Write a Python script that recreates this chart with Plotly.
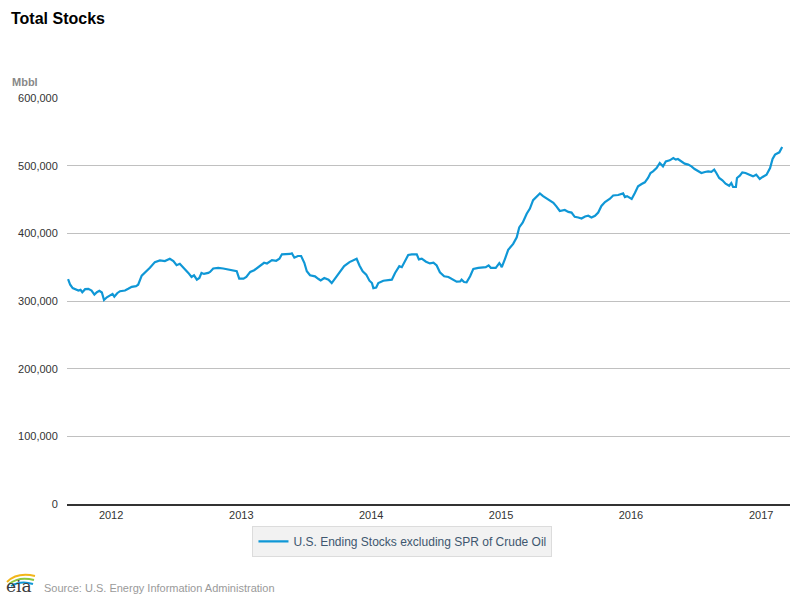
import plotly.graph_objects as go

series_name = "U.S. Ending Stocks excluding SPR of Crude Oil"

dates = [
    "2011-09-02", "2011-09-08", "2011-09-15", "2011-09-24", "2011-10-01", "2011-10-07", "2011-10-12",
    "2011-10-20", "2011-10-29", "2011-11-07", "2011-11-15", "2011-11-22", "2011-11-29", "2011-12-06",
    "2011-12-12", "2011-12-20", "2011-12-29",
    "2012-01-05", "2012-01-10", "2012-01-18", "2012-01-26", "2012-02-09", "2012-02-18", "2012-02-28",
    "2012-03-11", "2012-03-17", "2012-03-27", "2012-04-10", "2012-04-19", "2012-05-03", "2012-05-17",
    "2012-05-31", "2012-06-14", "2012-06-24", "2012-07-03", "2012-07-12", "2012-07-22", "2012-08-05",
    "2012-08-14", "2012-08-21", "2012-08-29", "2012-09-05", "2012-09-11", "2012-09-18", "2012-09-30",
    "2012-10-05", "2012-10-14", "2012-10-28", "2012-11-11", "2012-11-25", "2012-12-09", "2012-12-19",
    "2012-12-26",
    "2013-01-07", "2013-01-15", "2013-01-26", "2013-02-06", "2013-02-15", "2013-02-23", "2013-03-06",
    "2013-03-14", "2013-03-28", "2013-04-09", "2013-04-18", "2013-04-25", "2013-05-09", "2013-05-18",
    "2013-05-23", "2013-05-30", "2013-06-09", "2013-06-18", "2013-06-27", "2013-07-04", "2013-07-13",
    "2013-07-27", "2013-08-06", "2013-08-12", "2013-08-22", "2013-09-03", "2013-09-12", "2013-09-26",
    "2013-10-06", "2013-10-17", "2013-11-01", "2013-11-12", "2013-11-21", "2013-11-29", "2013-12-08",
    "2013-12-18", "2013-12-27",
    "2014-01-03", "2014-01-07", "2014-01-15", "2014-01-21", "2014-02-04", "2014-02-18", "2014-02-28",
    "2014-03-09", "2014-03-21", "2014-03-28", "2014-04-06", "2014-04-15", "2014-04-25", "2014-05-09",
    "2014-05-15", "2014-05-23", "2014-06-04", "2014-06-15", "2014-06-25", "2014-07-04", "2014-07-13",
    "2014-07-25", "2014-08-06", "2014-08-20", "2014-08-29", "2014-09-08", "2014-09-12", "2014-09-19",
    "2014-09-26", "2014-10-06", "2014-10-15", "2014-10-29", "2014-11-10", "2014-11-19", "2014-11-27",
    "2014-12-03", "2014-12-17", "2014-12-27", "2014-12-31",
    "2015-01-03", "2015-01-12", "2015-01-21", "2015-02-04", "2015-02-14", "2015-02-21", "2015-03-03",
    "2015-03-14", "2015-03-23", "2015-04-01", "2015-04-11", "2015-04-20", "2015-04-29", "2015-05-14",
    "2015-05-28", "2015-06-06", "2015-06-15", "2015-06-29", "2015-07-09", "2015-07-18", "2015-07-27",
    "2015-08-06", "2015-08-15", "2015-08-25", "2015-09-03", "2015-09-12", "2015-09-22", "2015-10-01",
    "2015-10-10", "2015-10-20", "2015-11-03", "2015-11-12", "2015-11-26", "2015-12-10", "2015-12-15",
    "2015-12-21", "2015-12-29",
    "2016-01-03", "2016-01-12", "2016-01-21", "2016-01-31", "2016-02-09", "2016-02-18", "2016-02-25",
    "2016-03-03", "2016-03-13", "2016-03-22", "2016-03-31", "2016-04-08", "2016-04-19", "2016-04-29",
    "2016-05-06", "2016-05-12", "2016-05-22", "2016-05-31", "2016-06-10", "2016-06-19", "2016-06-28",
    "2016-07-08", "2016-07-17", "2016-07-27", "2016-08-05", "2016-08-14", "2016-08-22", "2016-08-28",
    "2016-09-05", "2016-09-14", "2016-09-23", "2016-10-03", "2016-10-09", "2016-10-14", "2016-10-22",
    "2016-10-25", "2016-11-02", "2016-11-09", "2016-11-18", "2016-11-29", "2016-12-09", "2016-12-18",
    "2016-12-28",
    "2017-01-05", "2017-01-16", "2017-01-26", "2017-02-02", "2017-02-09", "2017-02-21", "2017-03-01",
]

stocks_mbbl = [
    332500, 324000, 319000, 317500, 315500, 316500, 313000,
    317500, 318000, 315500, 309500, 313000, 315000, 312500,
    301500, 305500, 308500,
    310500, 306500, 311500, 314500, 315500, 318000, 321000,
    322000, 324000, 337500, 344000, 349000, 357500, 360000,
    359000, 362500, 359000, 353000, 355000, 350000, 341500,
    335500, 338000, 331500, 334000, 341500, 340000, 341500,
    343000, 348000, 349000, 348000, 346500, 345000, 344000,
    333000,
    333000, 335500, 343000, 345500, 349000, 351500, 356500,
    355500, 360500, 359500, 362500, 369000, 369000, 369500,
    370500, 364000, 366500, 366500, 356500, 344000, 338000,
    336500, 332500, 330500, 334000, 331500, 326500, 336500,
    344000, 351500, 357500, 360500, 362500, 352500, 344000,
    339000, 330000,
    326500, 319000, 320000, 326500, 330000, 331500, 331500,
    341500, 351500, 350000, 359000, 368000, 369000, 369000,
    361500, 362500, 358000, 355500, 356500, 352500, 342500,
    336500, 335500, 330500, 328500, 329000, 331500, 328000,
    327500, 336500, 347500, 349000, 349000, 350000, 352700,
    349000, 349000, 356000, 353000,
    350000, 362400, 375600, 384400, 394000, 408800, 416000,
    429000, 436600, 449000, 453700, 459000, 455000, 450000,
    445000, 439500, 433000, 434600, 431700, 430700, 424400,
    423400, 422000, 425000, 426000, 423400, 426000, 430700,
    440500, 446300, 451200, 456000, 456600, 459000, 453700,
    455000, 452700,
    450700, 459600, 469500, 472900, 475400, 481800, 489200,
    491600, 496600, 504000, 499000, 506400, 507900, 511300,
    508900, 509900, 506400, 503000, 501500, 499000, 495000,
    491600, 489200, 490600, 491600, 491000, 494100, 489200,
    481800, 478300, 473400, 470400, 474400, 468500, 468500,
    481800, 485200, 490100, 489200, 486700, 484200, 486700,
    480300,
    483300, 486700, 496600, 509900, 516300, 519700, 527600,
]

y_ticks = [0, 100000, 200000, 300000, 400000, 500000, 600000]
y_tick_labels = ["0", "100,000", "200,000", "300,000", "400,000", "500,000", "600,000"]
x_ticks = ["2012-01-01", "2013-01-01", "2014-01-01", "2015-01-01", "2016-01-01", "2017-01-01"]
x_tick_labels = ["2012", "2013", "2014", "2015", "2016", "2017"]

FONT = "Liberation Sans, Arial, sans-serif"

fig = go.Figure()
fig.add_trace(go.Scatter(
    x=dates, y=stocks_mbbl, mode="lines", name=series_name,
    line=dict(color="#0f97d6", width=2.2),
    showlegend=True,
))

fig.update_layout(
    width=800, height=600,
    margin=dict(l=67, r=10, t=98, b=96),
    paper_bgcolor="white", plot_bgcolor="white",
    font=dict(family=FONT, size=11, color="#333333"),
    showlegend=True,
    legend=dict(
        orientation="h", x=0.464, xanchor="center", y=-0.054, yanchor="top",
        bgcolor="#f2f2f2", bordercolor="#dcdcdc", borderwidth=1,
        font=dict(family=FONT, size=12, color="#3e576f"),
        itemwidth=30,
    ),
    xaxis=dict(
        type="date", range=["2011-08-30", "2017-03-23"],
        tickvals=x_ticks, ticktext=x_tick_labels,
        showgrid=False, showline=True, linecolor="#333333", linewidth=1.5,
        ticks="", tickfont=dict(family=FONT, size=11, color="#333333"),
        zeroline=False,
    ),
    yaxis=dict(
        range=[0, 600000], tickvals=y_ticks, ticktext=y_tick_labels,
        showgrid=True, gridcolor="#c0c0c0", gridwidth=1,
        zeroline=False, showline=False,
        ticks="outside", ticklen=6, tickcolor="rgba(0,0,0,0)",
        tickfont=dict(family=FONT, size=11, color="#333333"),
    ),
    annotations=[
        dict(text="<b>Total Stocks</b>", xref="paper", yref="paper",
             x=-58/723, y=(504-8)/406, xanchor="left", yanchor="top", showarrow=False,
             font=dict(family=FONT, size=16, color="#000000")),
        dict(text="<b>Mbbl</b>", xref="paper", yref="paper",
             x=-57/723, y=(504-74)/406, xanchor="left", yanchor="top", showarrow=False,
             font=dict(family=FONT, size=11, color="#888888")),
        dict(text="Source: U.S. Energy Information Administration", xref="paper", yref="paper",
             x=-25/723, y=(504-580)/406, xanchor="left", yanchor="top", showarrow=False,
             font=dict(family=FONT, size=11, color="#9a9a9a")),
        dict(text="eia", xref="paper", yref="paper",
             x=-63/723, y=(504-574)/406, xanchor="left", yanchor="top", showarrow=False,
             font=dict(family="DejaVu Serif, serif", size=17, color="#3a3a3a")),
    ],
    shapes=[
        dict(type="path", xref="paper", yref="paper",
             path="M %f %f Q %f %f %f %f" % (-60/723, (504-582)/406, -50/723, (504-572)/406, -32/723, (504-576)/406),
             line=dict(color="#f2b61a", width=2)),
        dict(type="path", xref="paper", yref="paper",
             path="M %f %f Q %f %f %f %f" % (-58/723, (504-584)/406, -48/723, (504-576)/406, -33/723, (504-580)/406),
             line=dict(color="#8cc63f", width=2)),
        dict(type="path", xref="paper", yref="paper",
             path="M %f %f Q %f %f %f %f" % (-56/723, (504-586)/406, -46/723, (504-580)/406, -34/723, (504-584)/406),
             line=dict(color="#0f97d6", width=2)),
    ],
)

fig.write_html("out.html")
